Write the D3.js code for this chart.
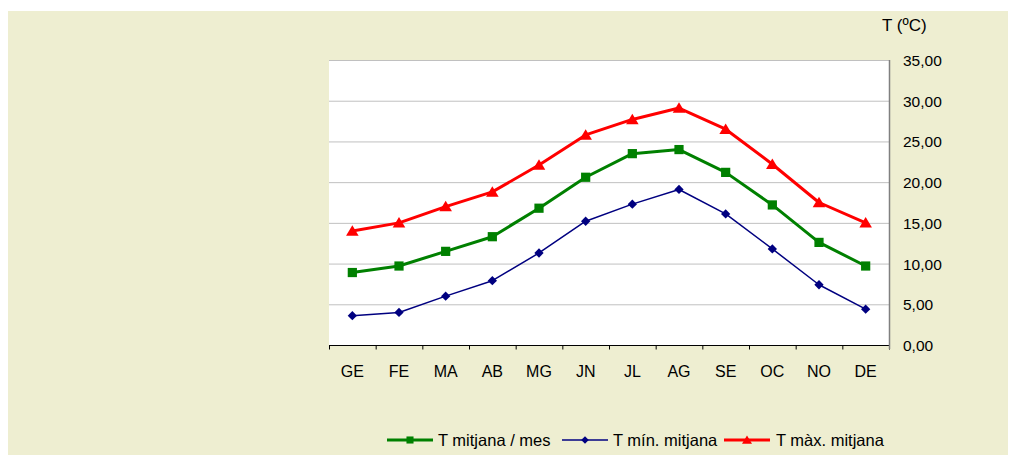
<!DOCTYPE html>
<html><head><meta charset="utf-8">
<script src="https://cdn.jsdelivr.net/npm/d3@7"></script>
<style>body{margin:0;background:#fff;}svg{display:block;font-family:"Liberation Sans",Arial,sans-serif;}</style>
</head><body>
<svg id="c" width="1009" height="455"></svg>
<script>
const months = ["GE","FE","MA","AB","MG","JN","JL","AG","SE","OC","NO","DE"];
const tMean = [8.9,9.7,11.5,13.3,16.8,20.6,23.5,24.0,21.2,17.2,12.6,9.7];
const tMin  = [3.6,4.0,6.0,7.9,11.3,15.2,17.3,19.1,16.1,11.8,7.4,4.4];
const tMax  = [14.0,15.0,17.0,18.8,22.1,25.8,27.7,29.1,26.5,22.2,17.5,15.0];
const yTicks = [0,5,10,15,20,25,30,35];
const seriesNames = ["T mitjana / mes","T mín. mitjana","T màx. mitjana"];
const seriesColors = ["#008000","#000080","#FF0000"];

const svg = d3.select("#c");
svg.append("rect").attr("x",8).attr("y",11).attr("width",1000).attr("height",444).attr("fill","#EEEED1");

const L=329,R=889,T=60,B=345;
svg.append("rect").attr("x",L).attr("y",T).attr("width",R-L).attr("height",B-T).attr("fill","#fff");

const x = d3.scaleBand().domain(months).range([L,R]);
const y = d3.scaleLinear().domain([0,35]).range([B,T]);

// gridlines
svg.append("g").selectAll("line").data(yTicks.filter(d=>d>0)).join("line")
  .attr("x1",L).attr("x2",R).attr("y1",d=>y(d)+0.5).attr("y2",d=>y(d)+0.5)
  .attr("stroke","#C0C0C0").attr("stroke-width",1);

// x axis
const xa = svg.append("g").attr("transform",`translate(0,${B+0.5})`);
xa.append("line").attr("x1",L).attr("x2",R).attr("stroke","#000");
xa.selectAll("line.t").data(d3.range(months.length+1)).join("line").attr("class","t")
  .attr("x1",i=>L+i*x.step()+0.5).attr("x2",i=>L+i*x.step()+0.5).attr("y1",0).attr("y2",4).attr("stroke","#000");
xa.selectAll("text").data(months).join("text")
  .attr("x",d=>x(d)+x.bandwidth()/2).attr("y",31.5).attr("text-anchor","middle")
  .attr("font-size",16).attr("fill","#000").text(d=>d);

// y axis right
svg.append("line").attr("x1",R+0.5).attr("x2",R+0.5).attr("y1",T).attr("y2",B+4).attr("stroke","#808080").attr("stroke-width",1.5);
const fmt = d=>d3.format(".2f")(d).replace(".",",");
svg.append("g").selectAll("text").data(yTicks).join("text")
  .attr("x",903).attr("y",d=>y(d)+6).attr("font-size",15.5).attr("fill","#000").text(fmt);
svg.append("text").attr("x",882).attr("y",31).attr("font-size",17).attr("fill","#000").text("T (ºC)");

const cx = d=>x(d)+x.bandwidth()/2;
function drawSeries(vals,color,width,shape,size){
  const line = d3.line().x((d,i)=>cx(months[i])).y(d=>y(d));
  svg.append("path").datum(vals).attr("d",line).attr("fill","none").attr("stroke",color).attr("stroke-width",width).attr("stroke-linejoin","round");
  svg.append("g").selectAll("path").data(vals).join("path")
    .attr("transform",(d,i)=>`translate(${cx(months[i])},${y(d)})`)
    .attr("d",d3.symbol().type(shape).size(size)).attr("fill",color);
}
const diamond = {draw(ctx,size){const r=Math.sqrt(size)/2*1.2;ctx.moveTo(0,-r);ctx.lineTo(r,0);ctx.lineTo(0,r);ctx.lineTo(-r,0);ctx.closePath();}};
const tri = {draw(ctx,size){const s=Math.sqrt(size);ctx.moveTo(0,-s*0.55);ctx.lineTo(s*0.6,s*0.45);ctx.lineTo(-s*0.6,s*0.45);ctx.closePath();}};
drawSeries(tMax,seriesColors[2],3,tri,110);
drawSeries(tMean,seriesColors[0],3,d3.symbolSquare,85);
drawSeries(tMin,seriesColors[1],1.5,diamond,60);

// legend
const leg = [
  {lx:387,tx:438,w:3,shape:d3.symbolSquare,size:50},
  {lx:562,tx:613,w:1.5,shape:diamond,size:40},
  {lx:724,tx:776,w:3,shape:tri,size:70}
];
leg.forEach((l,i)=>{
  const g = svg.append("g");
  g.append("line").attr("x1",l.lx).attr("x2",l.lx+46).attr("y1",440).attr("y2",440).attr("stroke",seriesColors[i]).attr("stroke-width",l.w);
  g.append("path").attr("transform",`translate(${l.lx+23},440)`).attr("d",d3.symbol().type(l.shape).size(l.size)).attr("fill",seriesColors[i]);
  g.append("text").attr("x",l.tx).attr("y",446).attr("font-size",16.5).attr("fill","#000").text(seriesNames[i]);
});
</script>
</body></html>
